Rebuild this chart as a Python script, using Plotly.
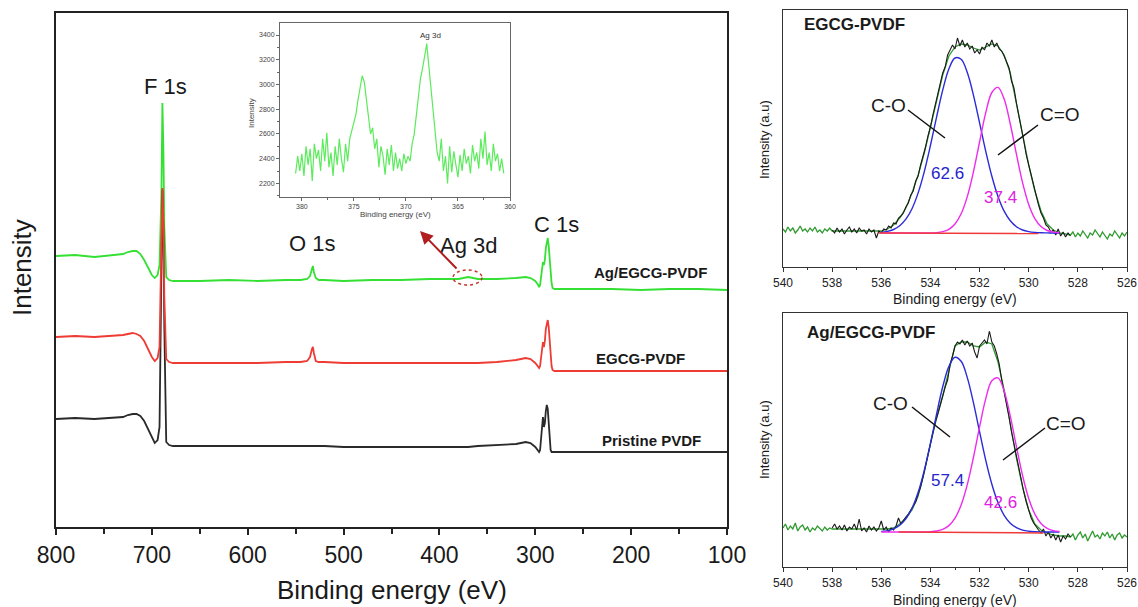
import plotly.graph_objects as go

W, H = 1138, 607
def px(x): return x / W
def py(y): return 1 - y / H

# ---------------- Survey spectra (main panel) ----------------
survey_be = [800, 780, 760, 740, 730, 725, 720, 716, 712, 708,
             704, 700, 697, 694, 692, 690, 689, 688, 687, 685,
             682, 678, 670, 650, 620, 590, 560, 545, 538, 535,
             533, 532, 531, 529, 526, 520, 500, 470, 440, 410,
             380, 370, 360, 340, 320, 310, 305, 300, 297, 296,
             295, 294, 293, 292, 291, 290, 289, 288, 287, 286,
             285, 284, 283, 282, 280, 270, 250, 220, 190, 160,
             130, 100]
survey_ag = [271, 272, 270, 272, 273, 275, 276, 276, 273, 267,
             259, 252, 249, 252, 262, 335, 424, 380, 300, 250,
             247, 246, 246, 246, 247, 246, 247, 247, 248, 251,
             258, 261, 255, 249, 247, 247, 246, 247, 247, 248,
             248, 250, 248, 248, 249, 250, 249, 246, 242, 240,
             242, 249, 257, 265, 262, 267, 279, 287, 289, 281,
             267, 253, 244, 239, 238, 238, 238, 238, 237, 238,
             238, 237]
survey_egcg = [190, 191, 190, 191, 192, 193, 194, 193, 191, 186,
               178, 170, 166, 169, 180, 270, 339, 310, 230, 168,
               165, 164, 164, 164, 164, 164, 165, 165, 166, 170,
               178, 180, 174, 166, 165, 165, 164, 164, 164, 164,
               164, 164, 164, 165, 167, 169, 168, 164, 160, 159,
               161, 168, 176, 185, 180, 186, 198, 205, 207, 200,
               185, 170, 161, 157, 156, 156, 156, 156, 156, 156,
               156, 156]
survey_pristine = [108, 109, 108, 109, 110, 112, 113, 113, 111, 106,
                   98, 89, 84, 87, 100, 260, 337, 300, 200, 85,
                   82, 81, 81, 81, 81, 81, 81, 81, 81, 81,
                   81, 81, 81, 81, 81, 81, 80, 80, 80, 80,
                   80, 80, 81, 82, 83, 85, 84, 80, 76, 75,
                   77, 88, 100, 110, 100, 104, 116, 122, 118, 100,
                   85, 77, 75, 75, 75, 75, 75, 75, 75, 75,
                   75, 75]
survey_ticks = [800, 700, 600, 500, 400, 300, 200, 100]

# ---------------- Inset: Ag 3d ----------------
inset_start, inset_step = 380.6, 0.2
inset_counts = [2280, 2420, 2300, 2440, 2260, 2500, 2350, 2480, 2220, 2520,
                2400, 2470, 2300, 2560, 2380, 2610, 2330, 2450, 2260, 2500,
                2350, 2560, 2400, 2290, 2520, 2380, 2560, 2620, 2700, 2760,
                2880, 2990, 3070, 3020, 2880, 2760, 2600, 2650, 2480, 2560,
                2330, 2500, 2420, 2270, 2480, 2350, 2510, 2300, 2450, 2320,
                2400, 2300, 2440, 2360, 2420, 2380, 2520, 2600, 2750, 2900,
                3050, 3130, 3220, 3330, 3150, 2980, 2780, 2600, 2450, 2380,
                2560, 2300, 2420, 2200, 2500, 2290, 2460, 2350, 2250, 2430,
                2300, 2480, 2360, 2420, 2280, 2510, 2380, 2450, 2320, 2560,
                2400, 2620, 2350, 2450, 2300, 2520, 2380, 2440, 2300, 2400,
                2280]
inset_be = [round(inset_start - inset_step * i, 2) for i in range(len(inset_counts))]

# ---------------- O 1s high-resolution: EGCG-PVDF ----------------
exp_start, exp_step = 538.0, 0.1
top_exp = [3, 0, 5, 1, 4, -1, 3, 6, 1, 4,
           0, 5, 2, 3, -1, 4, 1, 3, -5, 2,
           0, 4, 3, 7, 5, 10, 9, 15, 17, 20,
           26, 30, 38, 42, 52, 57, 68, 76, 86, 97,
           106, 118, 128, 140, 149, 160, 166, 178, 183, 188,
           184, 195, 187, 193, 186, 190, 184, 187, 180, 183,
           179, 186, 183, 190, 187, 193, 186, 190, 184, 182,
           177, 170, 165, 152, 145, 130, 118, 104, 92, 78,
           68, 55, 45, 35, 28, 20, 15, 8, 6, 1,
           3, -2, 4, -3, 1, -4, 0, -3]
top_exp_be = [round(exp_start - exp_step * i, 2) for i in range(len(top_exp))]

env_left_be = [round(540.0 - 0.1 * i, 2) for i in range(21)]
env_mid_be = [round(537.75 - 0.25 * i, 2) for i in range(38)]
env_right_be = [round(528.3 - 0.1 * i, 2) for i in range(24)]
env_be = env_left_be + env_mid_be + env_right_be

top_env = ([4, 1, 6, 2, 5, 0, 3, 7, 2, 4, 1, 5, 2, 6, 1, 3, 0, 4, 2, 5, 2] +
           [2, 2, 2, 2, 2, 2, 1.5, 2, 4, 8, 15, 25, 40, 58, 80, 106, 134, 158, 177, 186,
            189, 188, 185, 183, 186, 189, 187, 178, 160, 130, 98, 68, 42, 22, 9, 3, 0, -1] +
           [-2, 1, -4, 0, -3, 2, -1, -5, 0, -2, 3, -1, -4, 1, -2, -6, -1, -3, 2, -2, -5, 0, -3, 1])

comp_be = [round(536.0 - 0.25 * i, 2) for i in range(30)]
top_co = [0.7, 1.6, 3.5, 7.2, 13.8, 24.3, 40.1, 61.4, 87.5, 115.9,
          142.9, 164.0, 175.0, 173.7, 160.5, 137.9, 110.2, 81.9, 56.7, 36.5,
          21.8, 12.2, 6.3, 3.0, 1.4, 0.6, 0.2, 0.1, 0, 0]
top_cdo = [0, 0, 0, 0, 0, 0, 0, 0, 0, 0.4,
           1.4, 3.7, 9.0, 19.2, 36.4, 61.1, 91.0, 120.1, 140.5, 145.6,
           133.9, 109.0, 78.8, 50.4, 28.6, 14.4, 6.4, 2.5, 0.9, 0.3]
top_bg_be = [536.1, 529.6]
top_bg = [0, -0.5]

# ---------------- O 1s high-resolution: Ag/EGCG-PVDF ----------------
bot_exp = [4, 8, 3, 6, 2, 7, 1, 5, 3, 8,
           2, 13, 1, 4, 0, 6, 2, 5, 1, 4,
           11, 2, 5, 0, 4, 2, 6, 14, 8, 12,
           15, 18, 22, 25, 30, 38, 45, 55, 66, 78,
           88, 97, 110, 118, 128, 136, 145, 152, 168, 176,
           186, 190, 188, 192, 187, 191, 186, 189, 180, 174,
           186, 189, 192, 188, 201, 190, 186, 178, 168, 152,
           140, 128, 115, 100, 88, 74, 62, 50, 40, 30,
           22, 14, 9, 5, 2, -1, 3, -4, 0, -6,
           -2, -8, -3, -10, -4, -7, -2, -5]
bot_exp_be = [round(exp_start - exp_step * i, 2) for i in range(len(bot_exp))]

bot_env = ([4, 8, 2, 6, 3, 9, 1, 5, 7, 2, 5, 0, 4, 2, 6, 3, 1, 5, 2, 4, 3] +
           [3, 3, 3, 3, 3, 3, 3, 3, 3, 4, 8, 14, 22, 36, 60, 88, 114, 136, 160, 186,
            190, 190, 186, 185, 190, 188, 170, 142, 108, 74, 45, 22, 8, 2, -1, -3, -4, -4] +
           [-5, -2, -8, -3, 0, -6, -2, -9, -4, 1, -5, -3, -7, -1, -4, 0, -6, -2, -8, -3, -1, -6, -3, -5])

bot_co = [0.6, 1.4, 3.2, 6.7, 13.1, 23.7, 39.7, 61.7, 88.6, 117.9,
          145.2, 165.5, 174.7, 170.7, 154.4, 129.3, 100.3, 71.9, 47.8, 29.4,
          16.7, 8.8, 4.3, 1.9, 0.8, 0.3, 0.1, 0, 0, 0]
bot_cdo = [0, 0, 0, 0, 0, 0, 0, 0, 0.3, 1.0,
           2.6, 6.4, 13.9, 27.0, 47.4, 74.5, 105.1, 133.1, 151.2, 154.1,
           141.1, 115.8, 85.4, 56.5, 33.5, 17.9, 8.5, 3.7, 1.4, 0.5]
bot_bg_be = [535.3, 529.4]
bot_bg = [0, -1]
hr_ticks = [540, 538, 536, 534, 532, 530, 528, 526]

# ---------------- Figure ----------------
FONT = "Liberation Sans, Arial, sans-serif"
GREEN_S, RED_S, BLACK_S = "#33E033", "#EE3B33", "#2A2A2A"
fig = go.Figure()

# survey traces
fig.add_trace(go.Scatter(x=survey_be, y=survey_ag, mode="lines",
                         line=dict(color=GREEN_S, width=1.8), xaxis="x", yaxis="y"))
fig.add_trace(go.Scatter(x=survey_be, y=survey_pristine, mode="lines",
                         line=dict(color=BLACK_S, width=1.8), xaxis="x", yaxis="y"))
fig.add_trace(go.Scatter(x=survey_be, y=survey_egcg, mode="lines",
                         line=dict(color=RED_S, width=1.8), xaxis="x", yaxis="y"))

# inset trace
fig.add_trace(go.Scatter(x=inset_be, y=inset_counts, mode="lines",
                         line=dict(color="#5CEB5C", width=1.2), xaxis="x2", yaxis="y2"))

# high-res panels
G_HR, K_HR, B_HR, M_HR, R_HR = "#2F9A2F", "#1A1A1A", "#2B2BD9", "#EE2BEE", "#F03A3A"
for xa, ya, env, exp, exp_be, co, cdo, bgx, bgy in [
        ("x3", "y3", top_env, top_exp, top_exp_be, top_co, top_cdo, top_bg_be, top_bg),
        ("x4", "y4", bot_env, bot_exp, bot_exp_be, bot_co, bot_cdo, bot_bg_be, bot_bg)]:
    fig.add_trace(go.Scatter(x=env_be, y=env, mode="lines",
                             line=dict(color=G_HR, width=1.3), xaxis=xa, yaxis=ya))
    fig.add_trace(go.Scatter(x=exp_be, y=exp, mode="lines",
                             line=dict(color=K_HR, width=1.1), xaxis=xa, yaxis=ya))
    fig.add_trace(go.Scatter(x=comp_be, y=co, mode="lines", line_shape="spline",
                             line=dict(color=B_HR, width=1.4), xaxis=xa, yaxis=ya))
    fig.add_trace(go.Scatter(x=comp_be, y=cdo, mode="lines", line_shape="spline",
                             line=dict(color=M_HR, width=1.4), xaxis=xa, yaxis=ya))
    fig.add_trace(go.Scatter(x=bgx, y=bgy, mode="lines",
                             line=dict(color=R_HR, width=1.4), xaxis=xa, yaxis=ya))

axis_common = dict(showgrid=False, zeroline=False, showline=True, mirror=True, automargin=False)

fig.update_layout(
    width=W, height=H, margin=dict(l=0, r=0, t=0, b=0, pad=0, autoexpand=False),
    paper_bgcolor="white", plot_bgcolor="rgba(0,0,0,0)",
    showlegend=False, font=dict(family=FONT, color="#1a1a1a"),
    xaxis=dict(domain=[px(56), px(727)], range=[800, 100], anchor="y",
               tickvals=survey_ticks, ticks="outside", ticklen=6, tickwidth=1.5,
               tickcolor="#222", minor=dict(dtick=50, ticks="outside", ticklen=5, tickwidth=1.5, tickcolor="#222"),
               tickfont=dict(size=23, family=FONT, color="#1a1a1a"),
               linecolor="#222", linewidth=2, **axis_common),
    yaxis=dict(domain=[py(527), py(13)], range=[0, 514], anchor="x",
               showticklabels=False, ticks="", linecolor="#222", linewidth=2, **axis_common),
    xaxis2=dict(domain=[px(280), px(510)], range=[382.1, 360], anchor="y2",
                tickvals=[380, 375, 370, 365, 360], ticks="outside", ticklen=3,
                tickcolor="#666", minor=dict(dtick=2.5, ticks="outside", ticklen=2, tickcolor="#666"),
                tickfont=dict(size=7, color="#444"), linecolor="#666", linewidth=1, **axis_common),
    yaxis2=dict(domain=[py(197), py(23)], range=[2090, 3497], anchor="x2",
                tickvals=[2200, 2400, 2600, 2800, 3000, 3200, 3400], ticks="outside", ticklen=3,
                tickcolor="#666", minor=dict(dtick=100, ticks="outside", ticklen=2, tickcolor="#666"),
                tickfont=dict(size=7, color="#444"), linecolor="#666", linewidth=1, **axis_common),
    xaxis3=dict(domain=[px(783), px(1127)], range=[540, 526], anchor="y3",
                tickvals=hr_ticks, ticks="outside", ticklen=4, tickcolor="#333",
                minor=dict(dtick=1, ticks="outside", ticklen=2, tickcolor="#333"),
                tickfont=dict(size=12, color="#222"), linecolor="#333", linewidth=1.2, **axis_common),
    yaxis3=dict(domain=[py(267), py(10)], range=[-34, 223], anchor="x3",
                showticklabels=False, ticks="", linecolor="#333", linewidth=1.2, **axis_common),
    xaxis4=dict(domain=[px(783), px(1127)], range=[540, 526], anchor="y4",
                tickvals=hr_ticks, ticks="outside", ticklen=4, tickcolor="#333",
                minor=dict(dtick=1, ticks="outside", ticklen=2, tickcolor="#333"),
                tickfont=dict(size=12, color="#222"), linecolor="#333", linewidth=1.2, **axis_common),
    yaxis4=dict(domain=[py(567), py(313)], range=[-35, 219], anchor="x4",
                showticklabels=False, ticks="", linecolor="#333", linewidth=1.2, **axis_common),
)

def note(text, x, y, size, color="#1a1a1a", bold=False, angle=0, family=FONT):
    t = f"<b>{text}</b>" if bold else text
    fig.add_annotation(text=t, x=px(x), y=py(y), xref="paper", yref="paper",
                       showarrow=False, xanchor="center", yanchor="middle",
                       textangle=angle, font=dict(size=size, color=color, family=family))

# main panel text
note("Binding energy (eV)", 392, 590, 26)
note("Intensity", 22, 268, 26, angle=-90)
note("F 1s", 165, 86, 22)
note("O 1s", 312, 243, 22)
note("C 1s", 556, 224, 22)
note("Ag 3d", 469, 246, 22)
note("Ag/EGCG-PVDF", 650, 272, 15, bold=True)
note("EGCG-PVDF", 640, 358, 15, bold=True)
note("Pristine PVDF", 651, 440, 15, bold=True)

# inset text
note("Ag 3d", 430, 36, 8, color="#333")
note("Binding energy (eV)", 395, 215, 8, color="#444")
note("Intensity", 251, 113, 8, color="#444", angle=-90)

# arrow + dashed ellipse for Ag 3d
fig.add_annotation(x=px(420), y=py(231), xref="paper", yref="paper", text="",
                   showarrow=True, ax=38, ay=39, arrowhead=2, arrowsize=1.3,
                   arrowwidth=2, arrowcolor="#B01E1E")
fig.add_shape(type="circle", xref="paper", yref="paper",
              x0=px(453), x1=px(482), y0=py(285), y1=py(270),
              line=dict(color="#C0392B", width=1.5, dash="dot"))

# high-res panel text
note("EGCG-PVDF", 854, 25, 17, bold=True)
note("Ag/EGCG-PVDF", 871, 333, 17, bold=True)
note("C-O", 888, 105, 19)
note("C=O", 1060, 115, 19)
note("62.6", 947, 173, 17, color="#2525CC")
note("37.4", 1000, 197, 17, color="#E020E0")
note("C-O", 890, 403, 19)
note("C=O", 1066, 423, 19)
note("57.4", 947, 480, 17, color="#2525CC")
note("42.6", 1000, 502, 17, color="#E020E0")
note("Binding energy (eV)", 955, 299, 14)
note("Binding energy (eV)", 955, 600, 14)
note("Intensity (a.u)", 764, 140, 13, angle=-90)
note("Intensity (a.u)", 764, 440, 13, angle=-90)

for (x0, y0, x1, y1) in [(908, 110, 945, 138), (1038, 125, 998, 155),
                         (912, 407, 950, 437), (1045, 428, 1003, 460)]:
    fig.add_shape(type="line", xref="paper", yref="paper",
                  x0=px(x0), y0=py(y0), x1=px(x1), y1=py(y1),
                  line=dict(color="#111", width=1.5))

fig.write_html("out.html")
